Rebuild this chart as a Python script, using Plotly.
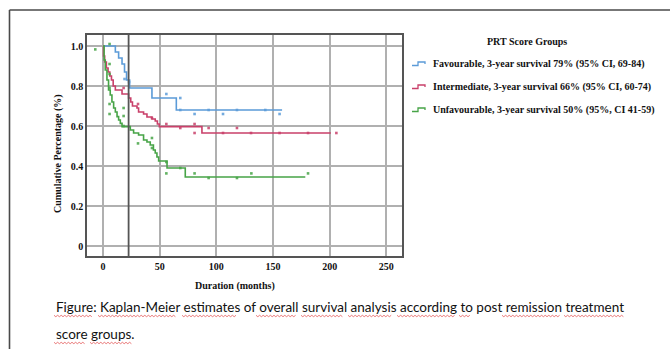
import plotly.graph_objects as go

# ---------------- data ----------------
fav_t = [0, 10.9, 13.8, 16.8, 19.0, 20.8, 23.5, 43.2, 64.7, 158]
fav_s = [1.0, 0.97, 0.94, 0.91, 0.87, 0.83, 0.79, 0.74, 0.68, 0.68]
fav_cx = [19.0, 23.0, 55.9, 68.2, 68.2, 80.8, 93.2, 105.9, 118.2, 143.2, 155.8]
fav_cy = [0.835, 0.82, 0.76, 0.74, 0.68, 0.66, 0.68, 0.66, 0.68, 0.68, 0.66]

int_t = [0, 0.5, 1.5, 3, 4.5, 6, 7.5, 9, 10.9, 16.8, 22.6, 24.5, 26, 30, 31.4, 35.8, 38.8, 43.2, 46.1, 48, 49.7, 87.3, 201]
int_s = [1.0, 0.95, 0.92, 0.89, 0.87, 0.85, 0.83, 0.80, 0.78, 0.76, 0.74, 0.72, 0.70, 0.69, 0.67, 0.66, 0.645, 0.635, 0.625, 0.61, 0.597, 0.565, 0.565]
int_cx = [18.2, 30.9, 43.2, 55.9, 68.2, 80.8, 80.8, 93.2, 105.9, 118.2, 130.6, 155.8, 180.9, 205.9]
int_cy = [0.79, 0.71, 0.64, 0.61, 0.59, 0.61, 0.565, 0.59, 0.565, 0.59, 0.565, 0.565, 0.565, 0.565]

unf_t = [0, 1, 2, 3.5, 4.9, 6.4, 7.9, 9.4, 10.9, 12.4, 13.8, 15.3, 16.8, 24.1, 27, 31.4, 35.8, 38.8, 41.7, 44.5, 46.1, 47.6, 49.1, 56.5, 72.6, 178.5]
unf_s = [1.0, 0.93, 0.88, 0.83, 0.78, 0.755, 0.72, 0.69, 0.67, 0.647, 0.63, 0.613, 0.597, 0.58, 0.565, 0.555, 0.53, 0.52, 0.505, 0.48, 0.465, 0.445, 0.425, 0.39, 0.345, 0.345]
unf_cx = [-6.8, 5.8, 5.8, 5.8, 5.8, 5.8, 5.8, 18.2, 18.2, 18.2, 30.9, 43.2, 43.2, 55.9, 55.9, 68.2, 80.8, 93.2, 118.2, 130.9, 180.9]
unf_cy = [0.983, 1.01, 0.91, 0.86, 0.79, 0.71, 0.66, 0.69, 0.65, 0.6, 0.513, 0.54, 0.49, 0.42, 0.363, 0.39, 0.363, 0.34, 0.34, 0.363, 0.363]

ref_x = 22.6

x_ticks = [0, 50, 100, 150, 200, 250]
x_tick_text = ["0", "50", "100", "150", "200", "250"]
y_ticks = [0, 0.2, 0.4, 0.6, 0.8, 1.0]
y_tick_text = ["0", "0.2", "0.4", "0.6", "0.8", "1.0"]

group_names = [
    "Favourable, 3-year survival 79% (95% CI, 69-84)",
    "Intermediate, 3-year survival 66% (95% CI, 60-74)",
    "Unfavourable, 3-year survival 50% (95%, CI 41-59)",
]
colors = ["#5b9bd8", "#c9406a", "#47a447"]

# ---------------- layout geometry ----------------
W, H = 670, 349
L, R, T, B = 87, 402, 35, 256
PW, PH = R - L, B - T


def px(x):
    return (x - L) / PW


def py(y):
    return (B - y) / PH


SERIF = "Liberation Serif, Times New Roman, serif"

fig = go.Figure()
series = [(fav_t, fav_s, fav_cx, fav_cy), (int_t, int_s, int_cx, int_cy), (unf_t, unf_s, unf_cx, unf_cy)]
for (t, s, cx, cy), c, n in zip(series, colors, group_names):
    fig.add_trace(go.Scatter(x=t, y=s, mode="lines", line=dict(color=c, width=1.6, shape="hv"),
                             name=n, showlegend=False, hoverinfo="skip"))
    fig.add_trace(go.Scatter(x=cx, y=cy, mode="markers", marker=dict(color=c, size=2.6, symbol="square", opacity=0.85),
                             showlegend=False, hoverinfo="skip"))

fig.add_shape(type="line", x0=ref_x, x1=ref_x, y0=0, y1=1, xref="x", yref="paper",
              line=dict(color="#555555", width=1.8), layer="above")

# outer page border
fig.add_shape(type="line", xref="paper", yref="paper", x0=px(9.5), x1=px(9.5), y0=py(10), y1=py(349),
              line=dict(color="#4a4a4a", width=1.6))
fig.add_shape(type="line", xref="paper", yref="paper", x0=px(9.5), x1=px(670), y0=py(10), y1=py(10),
              line=dict(color="#4a4a4a", width=1.6))

# legend
fig.add_annotation(x=px(527), y=py(41), xref="paper", yref="paper", text="<b>PRT Score Groups</b>",
                   showarrow=False, font=dict(family=SERIF, size=10, color="#111"), xanchor="center", yanchor="middle")
for i, (n, c) in enumerate(zip(group_names, colors)):
    yy = 64 + i * 23
    fig.add_shape(type="path", xref="paper", yref="paper",
                  path=f"M {px(412)} {py(yy+1.5)} L {px(418)} {py(yy+1.5)} L {px(418)} {py(yy-2)} L {px(425)} {py(yy-2)} L {px(425)} {py(yy)}",
                  line=dict(color=c, width=1.3))
    fig.add_annotation(x=px(431), y=py(yy), xref="paper", yref="paper", text=f"<b>{n}</b>",
                       showarrow=False, font=dict(family=SERIF, size=10, color="#111"), xanchor="left", yanchor="middle")

# axis titles
fig.add_annotation(x=px(58), y=py(154), xref="paper", yref="paper", text="<b>Cumulative Percentage (%)</b>",
                   textangle=-90, showarrow=False, xanchor="center", yanchor="middle",
                   font=dict(family=SERIF, size=10, color="#111"))
fig.add_annotation(x=px(235), y=py(286), xref="paper", yref="paper", text="<b>Duration (months)</b>",
                   showarrow=False, xanchor="center", yanchor="middle",
                   font=dict(family=SERIF, size=10, color="#111"))

# caption
CAP = "Liberation Sans Narrow, Arial Narrow, Lato, sans-serif"
fig.add_annotation(x=px(54), y=py(307), xref="paper", yref="paper",
                   text="Figure: Kaplan-Meier estimates of overall survival analysis according to post remission treatment",
                   showarrow=False, xanchor="left", yanchor="middle", font=dict(family=CAP, size=13.5, color="#111"))
fig.add_annotation(x=px(54), y=py(334), xref="paper", yref="paper", text="score groups.",
                   showarrow=False, xanchor="left", yanchor="middle", font=dict(family=CAP, size=13.5, color="#111"))

# spell-check squiggles
squig1 = [(54, 92), (98, 177), (182, 237), (256, 297), (301, 344), (348, 393), (397, 455), (459, 470), (502, 560), (564, 624)]
squig2 = [(54, 85), (90, 132)]
for segs, yy in [(squig1, 316), (squig2, 343)]:
    for a, b in segs:
        pts = []
        x = a
        k = 0
        while x <= b:
            pts.append(f"{'M' if k == 0 else 'L'} {px(x)} {py(yy + (0.7 if k % 2 else -0.7))}")
            x += 1.8
            k += 1
        fig.add_shape(type="path", xref="paper", yref="paper", path=" ".join(pts),
                      line=dict(color="#e04040", width=0.7))

axis_common = dict(showgrid=True, gridcolor="#b0b0b0", gridwidth=1.5, showline=True, linecolor="#555555",
                   linewidth=1.5, mirror=True, zeroline=False, ticks="",
                   tickfont=dict(family=SERIF, size=10, color="#111"))
fig.update_xaxes(range=[-14.1, 263.8], tickvals=x_ticks, ticktext=[f"<b>{t}</b>" for t in x_tick_text], **axis_common)
fig.update_yaxes(range=[-0.05, 1.055], tickvals=y_ticks, ticktext=[f"<b>{t}</b>" for t in y_tick_text], **axis_common)

fig.update_layout(width=W, height=H, margin=dict(l=L, r=W - R, t=T, b=H - B),
                  plot_bgcolor="white", paper_bgcolor="white", showlegend=False)

fig.write_html("out.html")
